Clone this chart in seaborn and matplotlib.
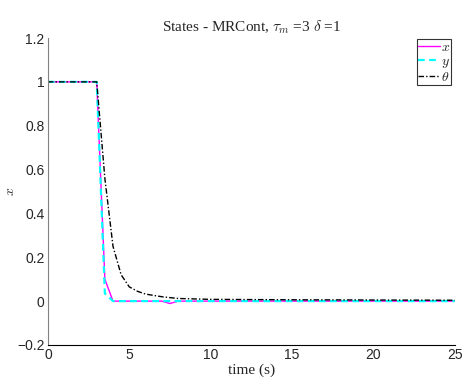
import numpy as np
import pandas as pd
import seaborn as sns
import matplotlib.pyplot as plt

# breakpoints (linear between points)
t_x = [0, 3, 3.5, 4, 7, 7.5, 8, 25]
x_vals = [1, 1, 0.10, 0.0, 0.0, -0.011, 0.0, 0.0]

t_y = [0, 3, 3.5, 4, 25]
y_vals = [1, 1, 0.035, 0.0, 0.0]

t_th = [0, 3, 3.5, 4, 4.5, 5, 5.5, 6, 7, 8, 10, 15, 25]
th_vals = [1, 1, 0.56, 0.25, 0.12, 0.065, 0.045, 0.032, 0.02, 0.012, 0.008, 0.006, 0.004]

sns.set_style("white")
plt.rcParams['mathtext.fontset'] = 'cm'
plt.rcParams['font.family'] = ['Liberation Sans', 'DejaVu Sans']

fig = plt.figure(figsize=(4.65, 3.92), dpi=100)
ax = fig.add_axes([0.103, 0.120, 0.875, 0.783])

sns.lineplot(x=t_x, y=x_vals, ax=ax, color='magenta', lw=1.0, label='$x$')
sns.lineplot(x=t_y, y=y_vals, ax=ax, color='cyan', lw=1.6, ls=(0, (3, 2)), label='$y$')
sns.lineplot(x=t_th, y=th_vals, ax=ax, color='black', lw=1.0, ls=(0, (4, 1.5, 1, 1.5)), label=r'$\theta$')

ax.set_xlim(0, 25)
ax.set_ylim(-0.2, 1.2)
ax.set_xticks([0, 5, 10, 15, 20, 25])
ax.set_yticks([-0.2, 0, 0.2, 0.4, 0.6, 0.8, 1, 1.2])
ax.set_yticklabels(['−0.2', '0', '0.2', '0.4', '0.6', '0.8', '1', '1.2'])
ax.tick_params(direction='in', length=4, labelsize=10, width=0.8, pad=2.5)
for s in ['top', 'right']:
    ax.spines[s].set_visible(False)
ax.spines['left'].set_color('#808080')
ax.spines['bottom'].set_color('black')

ax.set_xlabel('time (s)', family='Liberation Serif', fontsize=11, labelpad=1)
ax.set_ylabel('$x$', fontsize=10)
ax.yaxis.set_label_coords(-0.075, 0.5)
ax.set_title(r'States - MRCont, $\tau_m$ =3 $\delta$ =1', family='Liberation Serif', fontsize=11, pad=5)

leg = ax.legend(loc='upper right', bbox_to_anchor=(0.995, 1.0), fontsize=10, frameon=True,
                handlelength=1.6, handletextpad=0.1, borderpad=0.05, labelspacing=0.0,
                fancybox=False, borderaxespad=0.1)
leg.get_frame().set_edgecolor('black')
leg.get_frame().set_linewidth(0.8)

fig.savefig('out.png', dpi=100)
